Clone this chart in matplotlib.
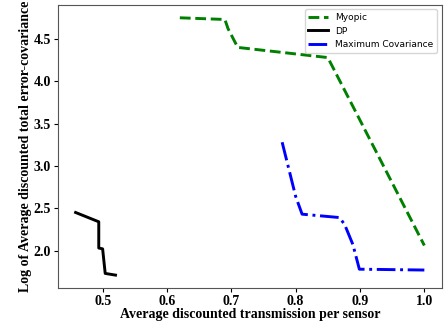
import matplotlib.pyplot as plt

# values
myopic_x = [0.62, 0.69, 0.695, 0.71, 0.85, 1.0]
myopic_y = [4.75, 4.73, 4.62, 4.40, 4.28, 2.06]

dp_x = [0.458, 0.494, 0.494, 0.500, 0.504, 0.520]
dp_y = [2.45, 2.34, 2.03, 2.02, 1.73, 1.71]

maxcov_x = [0.779, 0.800, 0.810, 0.868, 0.876, 0.889, 0.899, 1.0]
maxcov_y = [3.28, 2.64, 2.43, 2.39, 2.31, 2.07, 1.78, 1.77]

fig = plt.figure(figsize=(4.44, 3.28), dpi=100)
ax = fig.add_axes([0.131, 0.122, 0.864, 0.863])

ax.plot(myopic_x, myopic_y, color="green", linestyle="--", linewidth=2.1, label="Myopic")
ax.plot(dp_x, dp_y, color="black", linestyle="-", linewidth=2.1, label="DP")
ax.plot(maxcov_x, maxcov_y, color="blue", linestyle="-.", linewidth=2.1, label="Maximum Covariance")

serif = {"family": "Liberation Serif", "weight": "bold"}
ax.set_xlabel("Average discounted transmission per sensor", fontdict=serif, fontsize=10, labelpad=0)
ax.set_ylabel("Log of Average discounted total error-covariance", fontdict=serif, fontsize=10, labelpad=1)
ax.set_xticks([0.5, 0.6, 0.7, 0.8, 0.9, 1.0])
ax.set_yticks([2.0, 2.5, 3.0, 3.5, 4.0, 4.5])
for lbl in ax.get_xticklabels() + ax.get_yticklabels():
    lbl.set_fontfamily("Liberation Serif")
    lbl.set_fontweight("bold")
    lbl.set_fontsize(10)
ax.tick_params(length=3, pad=2)
for sp in ax.spines.values():
    sp.set_color("#555555")

ax.legend(loc="upper right", fontsize=6.5, handlelength=2.2)

fig.savefig("out.png", dpi=100)
